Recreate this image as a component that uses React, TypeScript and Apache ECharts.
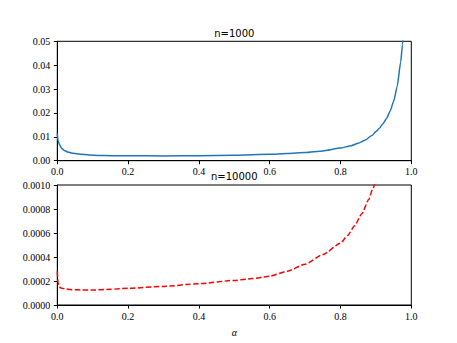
import React, { useEffect, useRef } from "react";
import * as echarts from "echarts";

const alpha1000: number[] = [0, 0.002, 0.006, 0.012, 0.02, 0.03, 0.045, 0.065, 0.09, 0.12, 0.15, 0.2, 0.3, 0.4, 0.5, 0.6, 0.65, 0.7, 0.75, 0.8, 0.83, 0.85, 0.87, 0.89, 0.9, 0.91, 0.92, 0.93, 0.94, 0.95, 0.96, 0.97, 0.975, 0.98];
const err1000: number[] = [0.0115, 0.0085, 0.0068, 0.0052, 0.0043, 0.0036, 0.0031, 0.0027, 0.0024, 0.0022, 0.0021, 0.00205, 0.002, 0.0021, 0.0023, 0.0027, 0.003, 0.0034, 0.0041, 0.0053, 0.0063, 0.0073, 0.0087, 0.0107, 0.0122, 0.0136, 0.0155, 0.0177, 0.0207, 0.0248, 0.031, 0.0413, 0.0485, 0.058];

const alpha10000: number[] = [0, 0.002, 0.005, 0.01, 0.02, 0.04, 0.07, 0.1, 0.15, 0.2, 0.3, 0.4, 0.5, 0.55, 0.6, 0.65, 0.7, 0.75, 0.8, 0.82, 0.84, 0.86, 0.88, 0.89, 0.9];
const err10000: number[] = [0.00028, 0.00019, 0.000155, 0.000142, 0.000135, 0.000128, 0.000125, 0.000125, 0.000131, 0.000139, 0.000155, 0.000178, 0.000205, 0.00022, 0.00024, 0.000282, 0.00034, 0.00042, 0.000514, 0.00058, 0.00066, 0.00076, 0.00088, 0.00096, 0.00104];

const titles: string[] = ["n=1000", "n=10000"];
const xLabel = "α";

const serif = "Liberation Serif";
const sans = "DejaVu Sans";

export default function App() {
  const ref = useRef<HTMLDivElement>(null);
  useEffect(() => {
    if (!ref.current) return;
    const chart = echarts.init(ref.current, null, { renderer: "svg" });
    const axisCommon = {
      axisLine: { show: true, onZero: false, lineStyle: { color: "#000", width: 1 } },
      axisTick: { show: true, inside: false, length: 3.5, lineStyle: { color: "#000", width: 1 } },
      splitLine: { show: false },
    };
    const xAxis = (gi: number) => ({
      type: "value",
      gridIndex: gi,
      min: 0,
      max: 1,
      interval: 0.2,
      ...axisCommon,
      axisLabel: {
        fontFamily: serif,
        fontSize: 10,
        color: "#000",
        margin: 6,
        formatter: (v: number) => v.toFixed(1),
      },
      ...(gi === 1
        ? {
            name: xLabel,
            nameLocation: "middle",
            nameGap: 22,
            nameTextStyle: { fontFamily: serif, fontStyle: "italic", fontSize: 10, color: "#000" },
          }
        : {}),
    });
    chart.setOption({
      animation: false,
      grid: [
        { left: 57.3, top: 41.3, width: 354, height: 119.4, show: true, borderColor: "#000", borderWidth: 1 },
        { left: 57.3, top: 185, width: 354, height: 120, show: true, borderColor: "#000", borderWidth: 1 },
      ],
      xAxis: [xAxis(0), xAxis(1)],
      yAxis: [
        {
          type: "value",
          gridIndex: 0,
          min: 0,
          max: 0.05,
          interval: 0.01,
          ...axisCommon,
          axisLabel: { fontFamily: serif, fontSize: 10, color: "#000", margin: 7, formatter: (v: number) => v.toFixed(2) },
        },
        {
          type: "value",
          gridIndex: 1,
          min: 0,
          max: 0.001,
          interval: 0.0002,
          ...axisCommon,
          axisLabel: { fontFamily: serif, fontSize: 10, color: "#000", margin: 7, formatter: (v: number) => v.toFixed(4) },
        },
      ],
      graphic: [
        {
          type: "text",
          x: 234.3,
          y: 33,
          style: { text: titles[0], fontFamily: sans, fontSize: 10, fill: "#000", align: "center", verticalAlign: "middle", textAlign: "center", textVerticalAlign: "middle" },
        },
        {
          type: "text",
          x: 234.3,
          y: 176,
          style: { text: titles[1], fontFamily: sans, fontSize: 10, fill: "#000", align: "center", verticalAlign: "middle", textAlign: "center", textVerticalAlign: "middle" },
        },
      ],
      series: [
        {
          type: "line",
          xAxisIndex: 0,
          yAxisIndex: 0,
          data: alpha1000.map((a, i) => [a, err1000[i]]),
          showSymbol: false,
          symbol: "none",
          clip: true,
          smooth: 0.2,
          smoothMonotone: "x",
          lineStyle: { color: "#1f77b4", width: 1.5 },
        },
        {
          type: "line",
          xAxisIndex: 1,
          yAxisIndex: 1,
          data: alpha10000.map((a, i) => [a, err10000[i]]),
          showSymbol: false,
          symbol: "none",
          clip: true,
          smooth: 0.2,
          smoothMonotone: "x",
          lineStyle: { color: "#ff0000", width: 1.5, type: [5.5, 2.4] },
        },
      ],
    });
    return () => chart.dispose();
  }, []);
  return <div ref={ref} style={{ position: "fixed", left: 0, top: 0, width: 457, height: 343, background: "#fff" }} />;
}
